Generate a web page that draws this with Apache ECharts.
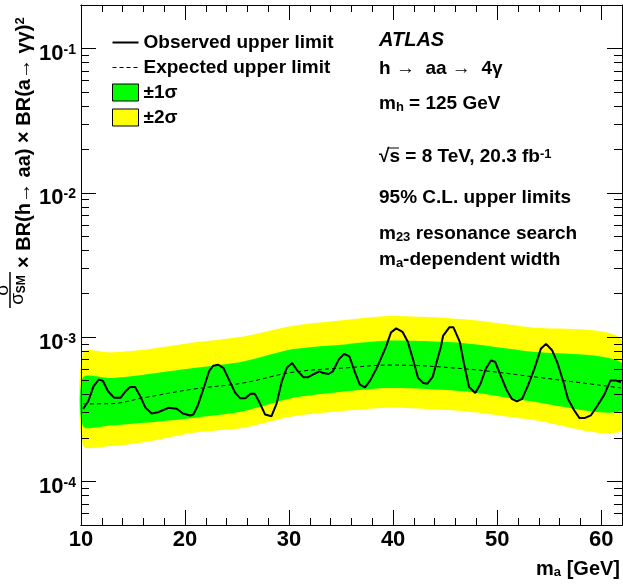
<!DOCTYPE html>
<html>
<head>
<meta charset="utf-8">
<script src="https://cdn.jsdelivr.net/npm/echarts@6/dist/echarts.min.js"></script>
<style>
html, body { margin: 0; padding: 0; background: #fff; }
#chart { width: 623px; height: 585px; }
</style>
</head>
<body>
<div id="chart"></div>
<script>
// observed upper limit (m_a in GeV, limit)
const obsMass = [
  10.2, 10.7, 11.2, 11.7, 12.1, 12.6, 13.2, 13.8, 14.2, 14.7,
  15.2, 15.7, 16.2, 16.8, 17.4, 18.4, 19.2, 19.8, 20.5, 20.8,
  21.2, 21.8, 22.3, 22.7, 23.2, 23.7, 24.3, 24.8, 25.3, 25.8,
  26.3, 26.7, 27.1, 27.7, 28.3, 28.8, 29.3, 29.8, 30.3, 30.8,
  31.4, 31.8, 32.4, 32.9, 33.3, 33.8, 34.2, 34.8, 35.3, 35.8,
  36.3, 36.8, 37.3, 37.8, 38.5, 39.3, 39.8, 40.3, 40.9, 41.4,
  41.9, 42.4, 42.9, 43.3, 43.8, 44.2, 44.6, 44.8, 45.4, 45.8,
  46.4, 46.8, 47.3, 47.9, 48.4, 48.9, 49.4, 49.8, 50.3, 50.9,
  51.4, 51.9, 52.4, 53.0, 53.6, 54.2, 54.7, 55.3, 55.8, 56.4,
  56.8, 57.4, 57.9, 58.4, 59.0, 59.6, 60.3, 60.9, 61.4, 61.9
];
const obsLimit = [
  3.19e-4, 3.60e-4, 4.56e-4, 5.08e-4, 4.99e-4, 4.22e-4, 3.80e-4, 3.80e-4, 4.15e-4, 4.52e-4,
  4.52e-4, 3.89e-4, 3.24e-4, 2.96e-4, 3.02e-4, 3.24e-4, 3.19e-4, 2.96e-4, 2.87e-4, 2.91e-4,
  3.32e-4, 4.45e-4, 5.79e-4, 6.34e-4, 6.44e-4, 6.11e-4, 4.94e-4, 4.15e-4, 3.77e-4, 3.77e-4,
  4.06e-4, 4.05e-4, 3.60e-4, 2.91e-4, 2.83e-4, 3.47e-4, 4.94e-4, 6.17e-4, 6.62e-4, 5.86e-4,
  5.27e-4, 5.27e-4, 5.56e-4, 5.79e-4, 5.64e-4, 5.56e-4, 5.79e-4, 7.05e-4, 7.67e-4, 7.35e-4,
  5.79e-4, 4.69e-4, 4.49e-4, 5.02e-4, 6.27e-4, 8.53e-4, 1.08e-3, 1.15e-3, 1.09e-3, 9.33e-4,
  7.05e-4, 5.21e-4, 4.82e-4, 4.76e-4, 5.30e-4, 6.79e-4, 8.61e-4, 1.02e-3, 1.17e-3, 1.17e-3,
  9.33e-4, 6.62e-4, 4.52e-4, 4.11e-4, 4.76e-4, 6.02e-4, 6.90e-4, 6.76e-4, 5.50e-4, 4.33e-4,
  3.74e-4, 3.60e-4, 3.74e-4, 4.69e-4, 6.11e-4, 8.31e-4, 8.99e-4, 8.08e-4, 6.62e-4, 4.82e-4,
  3.74e-4, 3.12e-4, 2.76e-4, 2.75e-4, 2.87e-4, 3.32e-4, 4.00e-4, 5.02e-4, 5.02e-4, 4.86e-4
];

// expected limit and its bands
const bandMass    = [10.2, 12.8, 16.0, 20.8, 25.6, 30.4, 35.6, 39.7, 46.8, 53.2, 61.9];
const expLimit    = [3.45e-4, 3.46e-4, 3.80e-4, 4.37e-4, 4.82e-4, 5.72e-4, 6.14e-4, 6.41e-4, 6.04e-4, 5.35e-4, 4.45e-4];
const minus2Sigma = [1.77e-4, 1.76e-4, 1.87e-4, 2.18e-4, 2.36e-4, 2.83e-4, 3.10e-4, 3.24e-4, 3.07e-4, 2.69e-4, 2.26e-4];
const minus1Sigma = [2.41e-4, 2.44e-4, 2.55e-4, 2.76e-4, 3.07e-4, 3.80e-4, 4.22e-4, 4.45e-4, 4.22e-4, 3.60e-4, 3.08e-4];
const plus1Sigma  = [5.28e-4, 5.21e-4, 5.50e-4, 6.11e-4, 6.79e-4, 8.27e-4, 8.95e-4, 9.47e-4, 9.09e-4, 7.96e-4, 6.70e-4];
const plus2Sigma  = [7.86e-4, 7.83e-4, 8.17e-4, 9.18e-4, 1.01e-3, 1.20e-3, 1.32e-3, 1.40e-3, 1.33e-3, 1.17e-3, 9.73e-4];

// axes
const xRange = [10, 62];
const xMajorStep = 10;
const xMinorStep = 2;
const yRange = [5e-5, 0.2];
const yMinorTicks = [
  6e-5, 7e-5, 8e-5, 9e-5,
  2e-4, 3e-4, 4e-4, 5e-4, 6e-4, 7e-4, 8e-4, 9e-4,
  2e-3, 3e-3, 4e-3, 5e-3, 6e-3, 7e-3, 8e-3, 9e-3,
  2e-2, 3e-2, 4e-2, 5e-2, 6e-2, 7e-2, 8e-2, 9e-2
];
const yMinorTickLen = 0.77; // in GeV, about 8 px

const FONT = '"Liberation Sans", Arial, Helvetica, sans-serif';
const BLACK = '#000';
const GREEN = '#00ff00';
const YELLOW = '#ffff00';

// legend icons: thin line shapes inside a 26x17 box
const solidIcon = 'path://M0,0L26,0M0,17L26,17M0,7.5h26v2h-26z';
const dashedIcon = 'path://M0,0L26,0M0,17L26,17M0,8h4v1h-4zM7,8h4v1h-4zM14,8h4v1h-4zM21,8h4v1h-4z';

const chart = echarts.init(document.getElementById('chart'), null, { renderer: 'canvas' });

function pairs(xs, ys) {
  return xs.map((x, i) => [x, ys[i]]);
}

const axisLineStyle = { show: true, lineStyle: { color: BLACK, width: 1 } };

function xAxisDef(position, step, tickLen, showLabel) {
  return {
    type: 'value', position: position,
    min: xRange[0], max: xRange[1], interval: step,
    z: 5,
    axisLine: axisLineStyle,
    axisTick: { show: true, inside: true, length: tickLen, lineStyle: { color: BLACK, width: 1 } },
    splitLine: { show: false },
    axisLabel: showLabel ? {
      show: true, margin: 4, color: BLACK, fontSize: 22, fontWeight: 'bold', fontFamily: FONT,
      showMaxLabel: false,
      formatter: v => (v % xMajorStep === 0 ? String(v) : '')
    } : { show: false }
  };
}

function yAxisDef(position, showLabel) {
  return {
    type: 'log', logBase: 10, position: position,
    min: yRange[0], max: yRange[1],
    z: 5,
    axisLine: axisLineStyle,
    axisTick: { show: true, inside: true, length: 15, lineStyle: { color: BLACK, width: 1 } },
    splitLine: { show: false },
    axisLabel: showLabel ? {
      show: true, margin: 5, color: BLACK, fontFamily: FONT,
      padding: [11, 0, 0, 0],
      showMinLabel: false, showMaxLabel: false,
      formatter: v => {
        const e = Math.log10(v);
        const r = Math.round(e);
        if (Math.abs(e - r) > 1e-6) return '';
        return '{b|10}{s|' + r + '}';
      },
      rich: {
        b: { fontSize: 22, fontWeight: 'bold', fontFamily: FONT, color: BLACK },
        s: { fontSize: 14, fontWeight: 'bold', fontFamily: FONT, color: BLACK, verticalAlign: 'top', lineHeight: 6 }
      }
    } : { show: false }
  };
}

// filled band between two limit arrays, drawn through the axes
function bandSeries(name, lo, hi, color) {
  return {
    name: name, type: 'custom', coordinateSystem: 'cartesian2d', silent: true, z: 1,
    color: color,
    data: [[bandMass[0], hi[0]]],
    renderItem: (params, api) => {
      const pts = [];
      bandMass.forEach((m, i) => pts.push(api.coord([m, hi[i]])));
      for (let i = bandMass.length - 1; i >= 0; i--) pts.push(api.coord([bandMass[i], lo[i]]));
      return {
        type: 'polygon',
        shape: { points: pts, smooth: 0.25 },
        style: { fill: color, stroke: null }
      };
    }
  };
}

// minor log ticks on the left and right frame, as short mark lines
const minorTickLines = [];
yMinorTicks.forEach(v => {
  minorTickLines.push([{ coord: [xRange[0], v] }, { coord: [xRange[0] + yMinorTickLen, v] }]);
  minorTickLines.push([{ coord: [xRange[1] - yMinorTickLen, v] }, { coord: [xRange[1], v] }]);
});

const textBase = { fontSize: 19, fontWeight: 'bold', fontFamily: FONT, fill: BLACK, verticalAlign: 'middle' };
const subStyle = { fontSize: 13, fontWeight: 'bold', fontFamily: FONT, fill: BLACK, verticalAlign: 'bottom', lineHeight: 10 };
const supStyle = { fontSize: 13, fontWeight: 'bold', fontFamily: FONT, fill: BLACK, verticalAlign: 'top', lineHeight: 8 };

const option = {
  backgroundColor: '#fff',
  animation: false,
  grid: { left: 81, right: 1, top: 5, bottom: 60, containLabel: false, outerBoundsMode: 'none' },
  xAxis: [
    xAxisDef('bottom', xMajorStep, 15, true),
    xAxisDef('bottom', xMinorStep, 7, false),
    xAxisDef('top', xMajorStep, 15, false),
    xAxisDef('top', xMinorStep, 7, false)
  ],
  yAxis: [
    yAxisDef('left', true),
    yAxisDef('right', false)
  ],
  legend: {
    orient: 'vertical', left: 107, top: 28,
    itemWidth: 26, itemHeight: 17, itemGap: 6,
    selectedMode: false,
    textStyle: { fontSize: 19, fontWeight: 'bold', fontFamily: FONT, color: BLACK },
    data: [
      { name: 'Observed upper limit', icon: solidIcon, itemStyle: { color: BLACK, borderWidth: 0 } },
      { name: 'Expected upper limit', icon: dashedIcon, itemStyle: { color: BLACK, borderWidth: 0 } },
      { name: '±1σ', icon: 'rect', itemStyle: { color: GREEN, borderColor: BLACK, borderWidth: 1 } },
      { name: '±2σ', icon: 'rect', itemStyle: { color: YELLOW, borderColor: BLACK, borderWidth: 1 } }
    ]
  },
  series: [
    bandSeries('±2σ', minus2Sigma, plus2Sigma, YELLOW),
    bandSeries('±1σ', minus1Sigma, plus1Sigma, GREEN),
    {
      name: 'Expected upper limit', type: 'line', symbol: 'none', smooth: 0.4, silent: true,
      data: pairs(bandMass, expLimit),
      color: BLACK, lineStyle: { color: BLACK, width: 1, type: [4, 3] }, z: 3
    },
    {
      name: 'Observed upper limit', type: 'line', symbol: 'none', silent: true,
      data: pairs(obsMass, obsLimit),
      color: BLACK, lineStyle: { color: BLACK, width: 2 }, z: 4,
      markLine: {
        silent: true, animation: false, symbol: ['none', 'none'],
        label: { show: false },
        lineStyle: { color: BLACK, width: 1, type: 'solid' },
        emphasis: { disabled: true },
        data: minorTickLines
      }
    }
  ],
  graphic: [
    {
      // y axis title, rotated
      type: 'group', x: 10, y: 312, rotation: Math.PI / 2, z: 100,
      children: [
        { type: 'text', x: 22, y: -7, style: { text: 'σ', fontSize: 19, fontFamily: FONT, fill: BLACK, align: 'center', verticalAlign: 'middle' } },
        { type: 'line', shape: { x1: 4, y1: 0, x2: 40, y2: 0 }, style: { stroke: BLACK, lineWidth: 1.5 } },
        {
          type: 'text', x: 22, y: 8,
          style: {
            text: 'σ{sm|SM}', fontSize: 19, fontFamily: FONT, fill: BLACK, align: 'center', verticalAlign: 'middle',
            rich: { sm: { fontSize: 12, fontWeight: 'bold', fontFamily: FONT, fill: BLACK, verticalAlign: 'bottom', lineHeight: 10 } }
          }
        },
        {
          type: 'text', x: 44, y: 14,
          style: Object.assign({}, textBase, {
            text: '× BR(h→ aa) × BR(a→ γγ){sp|2}', fontSize: 20, align: 'left',
            rich: { sp: supStyle }
          })
        }
      ]
    },
    { type: 'text', x: 379, y: 40, z: 100, style: Object.assign({}, textBase, { text: 'ATLAS', fontSize: 20, fontStyle: 'italic' }) },
    { type: 'text', x: 379, y: 69, z: 100, style: Object.assign({}, textBase, { text: 'h →  aa →  4γ' }) },
    { type: 'text', x: 379, y: 104, z: 100, style: Object.assign({}, textBase, { text: 'm{sb|h} = 125 GeV', rich: { sb: subStyle } }) },
    { type: 'text', x: 379, y: 157, z: 100, style: Object.assign({}, textBase, { text: '√s = 8 TeV, 20.3 fb{sp|-1}', rich: { sp: supStyle } }) },
    { type: 'line', z: 100, shape: { x1: 388, y1: 148, x2: 399, y2: 148 }, style: { stroke: BLACK, lineWidth: 1 } },
    { type: 'text', x: 379, y: 198, z: 100, style: Object.assign({}, textBase, { text: '95% C.L. upper limits' }) },
    { type: 'text', x: 379, y: 234, z: 100, style: Object.assign({}, textBase, { text: 'm{sb|23} resonance search', rich: { sb: subStyle } }) },
    { type: 'text', x: 379, y: 260, z: 100, style: Object.assign({}, textBase, { text: 'm{sb|a}-dependent width', rich: { sb: subStyle } }) },
    {
      type: 'text', right: 3, top: 559, z: 100,
      style: { text: 'm{sb|a} [GeV]', fontSize: 20, fontWeight: 'bold', fontFamily: FONT, fill: BLACK, rich: { sb: subStyle } }
    }
  ]
};

chart.setOption(option);
</script>
</body>
</html>
